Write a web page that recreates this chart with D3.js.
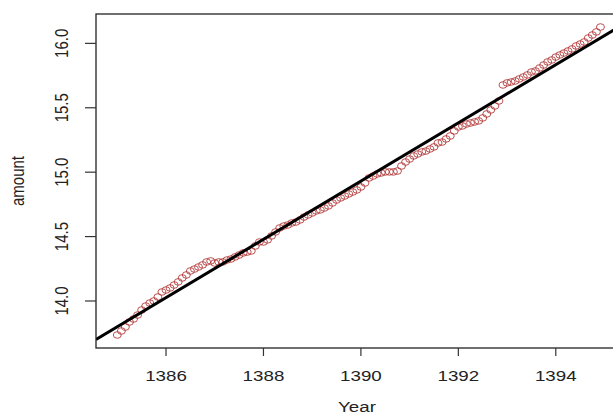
<!DOCTYPE html>
<html>
<head>
<meta charset="utf-8">
<script src="https://cdn.jsdelivr.net/npm/d3@7"></script>
<style>
  body { margin: 0; background: #fff; }
  text { font-family: "Liberation Sans", Arial, sans-serif; fill: #222; }
</style>
</head>
<body>
<svg id="chart" width="613" height="415"></svg>
<script>
// monthly observations, starting at 1385 (month 0)
const startYear = 1385
const amount = [
  13.736, 13.767, 13.798, 13.837, 13.860, 13.891, 13.930, 13.961, 13.984, 14.000, 14.031, 14.070,
  14.085, 14.101, 14.124, 14.148, 14.179, 14.202, 14.233, 14.248, 14.264, 14.280, 14.303, 14.311,
  14.295, 14.303, 14.303, 14.318, 14.326, 14.342, 14.357, 14.373, 14.380, 14.388, 14.427, 14.458,
  14.458, 14.474, 14.505, 14.536, 14.567, 14.582, 14.590, 14.606, 14.613, 14.629, 14.652, 14.668,
  14.683, 14.699, 14.707, 14.722, 14.738, 14.761, 14.784, 14.800, 14.815, 14.831, 14.846, 14.862,
  14.885, 14.916, 14.955, 14.970, 14.986, 14.994, 15.002, 15.002, 15.002, 15.009, 15.048, 15.079,
  15.102, 15.126, 15.141, 15.157, 15.164, 15.180, 15.196, 15.227, 15.234, 15.258, 15.281, 15.320,
  15.351, 15.359, 15.374, 15.382, 15.390, 15.398, 15.421, 15.452, 15.483, 15.514, 15.553, 15.677,
  15.693, 15.700, 15.708, 15.724, 15.739, 15.755, 15.778, 15.786, 15.809, 15.832, 15.856, 15.871,
  15.894, 15.910, 15.925, 15.941, 15.957, 15.980, 15.995, 16.011, 16.042, 16.065, 16.089, 16.127
]
const xTicks = [1386, 1388, 1390, 1392, 1394]
const yTicks = [14.0, 14.5, 15.0, 15.5, 16.0]

const data = amount.map((v, i) => ({year: startYear + i / 12, amount: v}))

// least squares fit, like abline(lm(amount ~ Year))
const mx = d3.mean(data, d => d.year), my = d3.mean(data, d => d.amount)
const slope = d3.sum(data, d => (d.year - mx) * (d.amount - my)) / d3.sum(data, d => (d.year - mx) ** 2)
const intercept = my - slope * mx

const pLeft = 96, pTop = 14, pBottom = 348, pRight = 624
const sx = 1.25 // picture is stretched sideways

const x = d3.scaleLinear().domain([1384.563, 1395.4]).range([pLeft, pRight])
const y = d3.scaleLinear().domain([13.635, 16.228]).range([pBottom, pTop])

const svg = d3.select('#chart')

svg.append('clipPath').attr('id', 'clip')
  .append('rect').attr('x', pLeft).attr('y', pTop).attr('width', pRight - pLeft).attr('height', pBottom - pTop)

const plot = svg.append('g').attr('clip-path', 'url(#clip)')

plot.selectAll('ellipse').data(data).enter().append('ellipse')
  .attr('cx', d => x(d.year)).attr('cy', d => y(d.amount))
  .attr('rx', 4).attr('ry', 3.3)
  .attr('fill', 'none').attr('stroke', '#b03434').attr('stroke-width', 1).attr('stroke-opacity', 0.85)

const xd = x.domain()
plot.append('line')
  .attr('x1', x(xd[0])).attr('y1', y(intercept + slope * xd[0]))
  .attr('x2', x(xd[1])).attr('y2', y(intercept + slope * xd[1]))
  .attr('stroke', '#000').attr('stroke-width', 3)

// box
svg.append('rect').attr('x', pLeft).attr('y', pTop).attr('width', pRight - pLeft).attr('height', pBottom - pTop)
  .attr('fill', 'none').attr('stroke', '#222').attr('stroke-width', 1.3)

// x axis
svg.selectAll('.xt').data(xTicks).enter().append('line')
  .attr('x1', d => x(d)).attr('x2', d => x(d)).attr('y1', pBottom).attr('y2', pBottom + 8)
  .attr('stroke', '#333').attr('stroke-width', 1.2)
svg.selectAll('.xl').data(xTicks).enter().append('text')
  .attr('transform', d => `translate(${x(d)},381) scale(${sx},1)`)
  .attr('text-anchor', 'middle').style('font-size', '15px').text(d => d)

// y axis
svg.selectAll('.yt').data(yTicks).enter().append('line')
  .attr('x1', pLeft - 11).attr('x2', pLeft).attr('y1', d => y(d)).attr('y2', d => y(d))
  .attr('stroke', '#333').attr('stroke-width', 1.2)
svg.selectAll('.yl').data(yTicks).enter().append('text')
  .attr('transform', d => `translate(68,${y(d)}) scale(${sx},1) rotate(-90)`)
  .attr('text-anchor', 'middle').style('font-size', '15px').text(d => d.toFixed(1))

svg.append('text').attr('transform', `translate(357,412) scale(${sx},1)`)
  .attr('text-anchor', 'middle').style('font-size', '15px').text('Year')
svg.append('text').attr('transform', `translate(24,${(pTop + pBottom) / 2}) scale(${sx},1) rotate(-90)`)
  .attr('text-anchor', 'middle').style('font-size', '15px').text('amount')
</script>
</body>
</html>
